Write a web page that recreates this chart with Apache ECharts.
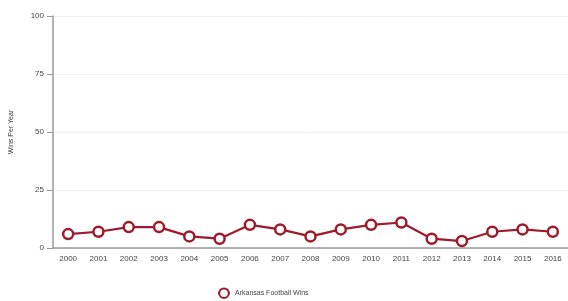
<!DOCTYPE html>
<html>
<head>
<meta charset="utf-8">
<script src="https://cdn.jsdelivr.net/npm/echarts@6/dist/echarts.min.js"></script>
<style>
  html, body { margin: 0; padding: 0; background: #fff; }
  #chart { width: 568px; height: 301px; }
</style>
</head>
<body>
<div id="chart"></div>
<script>
var years = ['2000', '2001', '2002', '2003', '2004', '2005', '2006', '2007', '2008',
  '2009', '2010', '2011', '2012', '2013', '2014', '2015', '2016'];
var wins = [6, 7, 9, 9, 5, 4, 10, 8, 5, 8, 10, 11, 4, 3, 7, 8, 7];
var seriesName = 'Arkansas Football Wins';

var chart = echarts.init(document.getElementById('chart'));

var option = {
  animation: false,
  grid: {
    left: 53,
    right: -2,
    top: 16,
    bottom: 53
  },
  legend: {
    data: [seriesName],
    bottom: -3,
    left: 212,
    itemWidth: 12,
    itemHeight: 12,
    textStyle: { fontSize: 7, color: '#444', fontFamily: 'Liberation Sans' }
  },
  xAxis: {
    type: 'category',
    data: years,
    boundaryGap: true,
    axisLine: { lineStyle: { color: '#999', width: 1.5 } },
    axisTick: { alignWithLabel: true, length: 5, lineStyle: { color: '#999' } },
    axisLabel: { fontSize: 8, color: '#444', margin: 7, fontFamily: 'Liberation Sans' }
  },
  yAxis: {
    type: 'value',
    min: 0,
    max: 100,
    interval: 25,
    name: 'Wins Per Year',
    nameLocation: 'middle',
    nameGap: 38,
    nameTextStyle: { fontSize: 7, color: '#333', fontFamily: 'Liberation Sans' },
    axisLine: { show: true, lineStyle: { color: '#999', width: 1.5 } },
    axisTick: { show: true, length: 6, lineStyle: { color: '#999' } },
    axisLabel: { fontSize: 8, color: '#444', margin: 9, fontFamily: 'Liberation Sans' },
    splitLine: { lineStyle: { color: '#eee' } }
  },
  series: [{
    name: seriesName,
    type: 'line',
    data: wins,
    symbol: 'circle',
    symbolSize: 10,
    itemStyle: { color: '#fff', borderColor: '#9e1b2b', borderWidth: 2.5 },
    lineStyle: { color: '#9e1b2b', width: 2.2 }
  }]
};

chart.setOption(option);
</script>
</body>
</html>
